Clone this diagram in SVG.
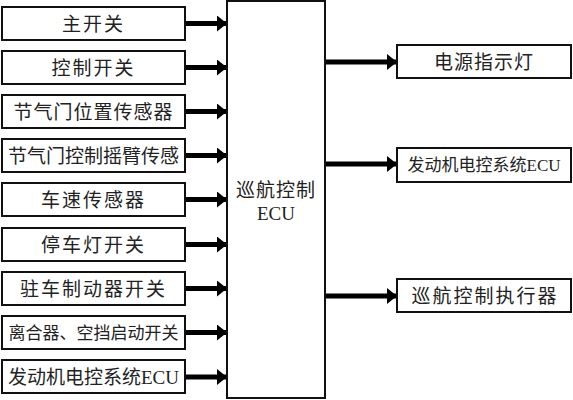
<svg xmlns="http://www.w3.org/2000/svg" width="573" height="400" viewBox="0 0 573 400">
<style>
.box{fill:#fff;stroke:#111;stroke-width:2}
.t{font-family:"Liberation Serif","Noto Sans CJK SC",serif;font-size:19px;fill:#222;text-anchor:middle;dominant-baseline:central}
.c{stroke:#000;stroke-width:5;fill:none;marker-end:url(#ah)}
</style>
<defs>
<marker id="ah" markerUnits="userSpaceOnUse" markerWidth="10" markerHeight="16" viewBox="0 0 10 16" refX="10" refY="8" orient="auto">
<path d="M0,0 L10,8 L0,16 z" fill="#000"/>
</marker>
</defs>
<rect width="573" height="400" fill="#fff"/>
<g id="connectors">
<path class="c" d="M185,23.5 H227"/>
<path class="c" d="M185,67.5 H227"/>
<path class="c" d="M185,111.5 H227"/>
<path class="c" d="M185,155.5 H227"/>
<path class="c" d="M185,199.5 H227"/>
<path class="c" d="M185,244.5 H227"/>
<path class="c" d="M185,288.5 H227"/>
<path class="c" d="M185,332.5 H227"/>
<path class="c" d="M185,377 H227"/>
<path class="c" d="M325,62 H397"/>
<path class="c" d="M325,164 H397"/>
<path class="c" d="M325,296 H397"/>
</g>
<g id="n1"><rect class="box" x="2" y="7" width="183" height="33"/><text class="t" x="93.5" y="24" letter-spacing="2">主开关</text></g>
<g id="n2"><rect class="box" x="2" y="51" width="183" height="33"/><text class="t" x="93.5" y="68" letter-spacing="2">控制开关</text></g>
<g id="n3"><rect class="box" x="2" y="95" width="183" height="33"/><text class="t" x="93.5" y="112" letter-spacing="1">节气门位置传感器</text></g>
<g id="n4"><rect class="box" x="2" y="139" width="183" height="33"/><text class="t" x="93.5" y="156">节气门控制摇臂传感</text></g>
<g id="n5"><rect class="box" x="2" y="183" width="183" height="33"/><text class="t" x="93.5" y="200" letter-spacing="2">车速传感器</text></g>
<g id="n6"><rect class="box" x="2" y="228" width="183" height="33"/><text class="t" x="93.5" y="245" letter-spacing="2">停车灯开关</text></g>
<g id="n7"><rect class="box" x="2" y="272" width="183" height="33"/><text class="t" x="93.5" y="289" letter-spacing="2">驻车制动器开关</text></g>
<g id="n8"><rect class="box" x="2" y="316" width="183" height="33"/><text class="t" x="93.5" y="333" style="font-size:17px">离合器、空挡启动开关</text></g>
<g id="n9"><rect class="box" x="2" y="360" width="183" height="33"/><text class="t" x="93.5" y="377">发动机电控系统ECU</text></g>
<g id="ecu"><rect class="box" x="227" y="1" width="98" height="397"/><text class="t" x="276" y="190" letter-spacing="1">巡航控制</text><text class="t" x="276" y="213">ECU</text></g>
<g id="r1"><rect class="box" x="397" y="45" width="174" height="33"/><text class="t" x="484" y="62" letter-spacing="1">电源指示灯</text></g>
<g id="r2"><rect class="box" x="397" y="148" width="174" height="34"/><text class="t" x="484" y="165" style="font-size:17px">发动机电控系统ECU</text></g>
<g id="r3"><rect class="box" x="397" y="279" width="174" height="33"/><text class="t" x="485" y="296" letter-spacing="2">巡航控制执行器</text></g>
</svg>
